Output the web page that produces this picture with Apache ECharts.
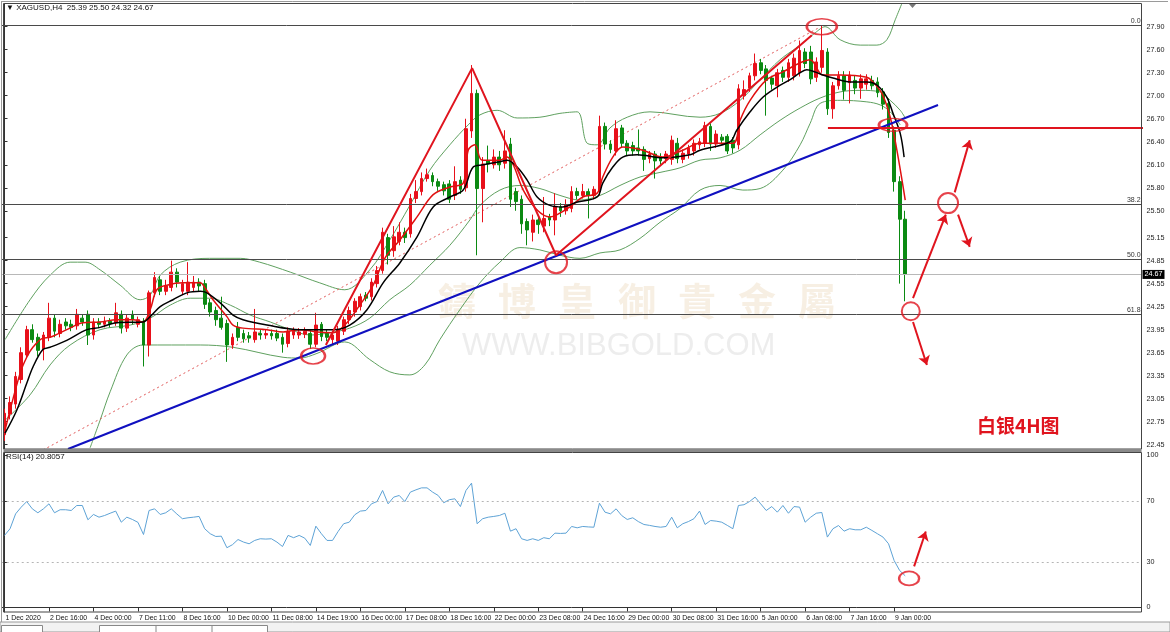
<!DOCTYPE html>
<html><head><meta charset="utf-8">
<script src="https://cdn.jsdelivr.net/npm/echarts@6/dist/echarts.min.js"></script>
<style>html,body{margin:0;padding:0;background:#fff}#chart{width:1170px;height:632px}</style>
</head><body><div id="chart"></div>
<script>
// ---------------- DATA ----------------
const xTickLabels = ['1 Dec 2020','2 Dec 16:00','4 Dec 00:00','7 Dec 11:00','8 Dec 16:00','10 Dec 00:00','11 Dec 08:00','14 Dec 19:00','16 Dec 00:00','17 Dec 08:00','18 Dec 16:00','22 Dec 00:00','23 Dec 08:00','24 Dec 16:00','29 Dec 00:00','30 Dec 08:00','31 Dec 16:00','5 Jan 00:00','6 Jan 08:00','7 Jan 16:00','9 Jan 00:00'];
const priceTicks = [27.90,27.60,27.30,27.00,26.70,26.40,26.10,25.80,25.50,25.15,24.85,24.55,24.25,23.95,23.65,23.35,23.05,22.75,22.45];
const rsiTicks = [0,30,70,100];
const rsiLevels = [70,30];
const lastPrice = 24.67;
const headerText = 'XAGUSD,H4  25.39 25.50 24.32 24.67';
const rsiText = 'RSI(14) 20.8057';
const chartNote = '白银4H图';

const opens = [
22.58,22.85,22.98,23.30,23.62,23.95,23.85,23.70,23.85,24.10,
23.90,24.05,24.02,24.00,24.10,24.15,23.88,24.05,24.02,24.06,
24.04,24.15,23.97,24.15,24.02,24.06,23.75,24.43,24.60,24.45,
24.50,24.70,24.45,24.45,24.50,24.57,24.55,24.30,24.20,24.10,
24.03,23.75,23.98,23.90,23.87,23.82,23.90,23.88,23.90,23.90,
23.85,23.77,23.88,23.88,23.89,23.90,23.76,24.02,23.90,23.82,
23.80,23.93,24.08,24.18,24.25,24.40,24.38,24.55,24.72,25.15,
24.98,25.10,25.22,25.20,25.66,25.75,25.92,25.96,25.88,25.84,
25.85,25.70,25.90,25.80,26.54,27.03,25.79,26.15,26.10,26.20,
26.12,26.37,25.75,25.65,25.36,25.22,25.38,25.30,25.42,25.38,
25.55,25.50,25.53,25.75,25.70,25.75,25.70,25.75,26.60,26.37,
26.28,26.58,26.38,26.35,26.32,26.30,26.18,26.24,26.20,26.18,
26.17,26.38,26.17,26.24,26.28,26.36,26.38,26.60,26.37,26.46,
26.47,26.42,26.36,27.00,27.10,27.26,27.43,27.35,27.23,27.13,
27.33,27.24,27.26,27.30,27.57,27.57,27.24,27.37,27.57,26.83,
27.13,27.26,27.17,27.20,27.10,27.15,27.20,27.18,27.05,26.90,
26.55,25.88,25.39];
const closes = [
22.86,23.00,23.34,23.65,23.95,23.82,23.68,23.88,24.10,23.93,
24.02,24.00,23.98,24.15,24.05,23.88,24.05,24.02,24.06,24.03,
24.17,23.97,24.10,24.08,24.08,23.75,24.43,24.63,24.45,24.52,
24.70,24.57,24.55,24.57,24.57,24.52,24.28,24.18,24.08,23.98,
23.75,23.85,23.85,23.83,23.84,23.92,23.88,23.90,23.87,23.84,
23.76,23.93,23.93,23.92,23.93,23.76,24.01,23.86,23.85,23.88,
23.95,24.08,24.20,24.32,24.38,24.36,24.57,24.72,25.22,24.92,
25.16,25.22,25.15,25.66,25.75,25.92,25.97,25.88,25.82,25.76,
25.65,25.88,25.78,26.57,27.03,25.79,26.11,26.11,26.20,26.10,
26.28,25.65,25.62,25.33,25.25,25.38,25.32,25.40,25.38,25.55,
25.50,25.58,25.75,25.70,25.75,25.70,25.78,26.60,26.37,26.30,
26.57,26.38,26.28,26.28,26.28,26.17,26.24,26.15,26.15,26.24,
26.42,26.18,26.25,26.32,26.38,26.40,26.61,26.37,26.50,26.42,
26.28,26.32,27.09,27.08,27.26,27.42,27.33,27.20,27.15,27.30,
27.24,27.43,27.49,27.59,27.42,27.22,27.44,27.59,26.83,27.13,
27.26,27.07,27.27,27.10,27.22,27.22,27.13,27.04,26.89,26.52,
25.88,25.39,24.67];
const lows = [
22.50,22.78,22.92,23.25,23.58,23.78,23.60,23.55,23.80,23.85,
23.85,23.95,23.93,23.95,24.00,23.75,23.82,23.97,23.98,23.98,
24.00,23.90,23.92,24.02,23.98,23.47,23.60,24.38,24.40,24.40,
24.45,24.50,24.40,24.40,24.45,24.45,24.22,24.12,24.00,23.95,
23.53,23.70,23.80,23.78,23.78,23.78,23.82,23.83,23.82,23.80,
23.65,23.72,23.83,23.83,23.84,23.70,23.72,23.80,23.80,23.76,
23.75,23.88,24.02,24.12,24.20,24.32,24.33,24.50,24.68,24.80,
24.90,25.05,25.08,25.15,25.60,25.70,25.88,25.82,25.76,25.70,
25.60,25.64,25.72,25.75,26.45,24.92,25.35,26.00,26.05,26.02,
26.05,25.55,25.50,25.20,25.05,25.10,25.20,25.22,25.30,25.18,
25.42,25.45,25.48,25.65,25.66,25.40,25.65,25.70,26.30,26.25,
26.22,26.32,26.22,26.22,26.22,26.02,26.12,25.92,26.10,26.12,
26.10,26.12,26.12,26.18,26.22,26.30,26.33,26.28,26.32,26.38,
26.24,26.25,26.30,26.95,27.05,27.20,27.28,26.74,27.08,26.98,
27.18,27.18,27.20,27.25,27.36,27.15,27.18,27.30,26.75,26.70,
27.08,26.95,26.90,27.02,26.96,27.08,27.08,26.98,26.82,26.45,
25.75,24.55,24.32];
const highs = [
22.92,23.08,23.40,23.72,24.00,24.02,23.90,23.92,24.30,24.15,
24.08,24.10,24.08,24.22,24.15,24.20,24.10,24.10,24.12,24.10,
24.30,24.20,24.15,24.20,24.12,24.10,24.46,24.70,24.65,24.60,
24.85,24.75,24.60,24.83,24.65,24.62,24.60,24.35,24.25,24.38,
24.08,23.90,24.05,23.95,23.92,24.22,23.95,23.95,23.95,23.95,
23.90,23.98,23.98,23.97,23.98,23.95,24.17,24.05,23.95,23.93,
24.00,24.12,24.25,24.36,24.42,24.44,24.62,24.78,25.28,25.20,
25.30,25.35,25.28,25.72,25.90,26.00,26.05,26.00,25.92,25.88,
25.90,26.08,25.95,26.70,27.40,27.08,26.20,26.35,26.30,26.28,
26.55,26.45,25.80,25.70,25.40,25.45,25.42,25.68,25.46,25.73,
25.60,25.65,25.82,25.80,25.85,25.79,25.82,26.74,26.65,26.42,
26.68,26.62,26.42,26.40,26.56,26.34,26.28,26.28,26.25,26.28,
26.48,26.45,26.30,26.36,26.43,26.45,26.66,26.64,26.55,26.50,
26.50,26.46,27.15,27.20,27.30,27.55,27.48,27.40,27.26,27.35,
27.38,27.48,27.55,27.72,27.62,27.65,27.50,27.92,27.62,27.18,
27.32,27.32,27.32,27.26,27.28,27.28,27.26,27.24,27.10,26.96,
26.60,25.95,25.50];
const rsi = [
47.4,51.8,61.6,66.0,69.7,64.9,62.3,64.9,68.2,62.3,
64.3,64.3,63.8,67.1,67.1,57.7,61.2,59.4,60.5,62.0,
63.4,56.1,59.4,57.9,56.0,48.0,63.8,64.9,61.2,62.3,
64.9,61.5,58.4,59.0,59.4,59.9,51.8,48.5,46.7,46.9,
39.3,41.3,44.7,43.0,41.9,44.1,45.2,45.0,45.2,43.0,
40.1,47.4,45.9,47.4,45.6,40.8,53.5,48.5,44.1,44.1,
50.0,55.1,56.1,61.0,63.4,63.8,68.2,69.7,77.0,68.2,
72.6,73.7,69.7,75.9,77.4,78.7,78.7,75.9,73.7,68.9,
70.9,71.5,66.4,77.0,81.8,55.1,58.4,59.4,59.9,60.5,
62.0,50.2,51.8,45.2,44.1,45.2,44.1,45.9,45.2,48.9,
48.7,48.9,53.3,52.4,53.3,53.0,52.8,68.6,62.7,61.6,
64.9,60.5,57.9,59.0,56.5,54.6,54.0,53.3,52.8,53.3,
59.4,52.4,55.1,56.5,58.4,63.4,54.6,57.2,56.8,56.1,
54.0,51.8,67.1,67.6,69.7,72.6,68.2,63.8,66.4,62.7,
67.1,62.0,66.4,66.0,56.1,59.4,62.0,62.5,46.3,51.8,
53.9,50.2,51.8,51.1,51.1,52.8,50.7,48.5,46.3,41.9,
30.9,24.3,20.8];

// indicator readings [bar, price]
const maFast = [[0.1,22.64],[2.8,23.38],[4.0,23.59],[5.1,23.72],[6.9,23.84],[8.2,23.85],[11.2,23.95],[14.1,24.04],[17.2,24.05],[20.2,24.08],[23.1,24.08],[24.9,24.05],[26.2,24.21],[27.4,24.47],[29.2,24.53],[32.1,24.56],[35.2,24.56],[36.1,24.49],[37.5,24.34],[40.0,24.12],[41.1,24.01],[42.9,23.97],[47.2,23.95],[50.1,23.92],[53.1,23.95],[56.2,23.92],[59.1,23.91],[61.2,24.01],[63.9,24.27],[66.3,24.53],[68.4,24.88],[71.1,25.12],[74.2,25.42],[77.1,25.71],[80.1,25.81],[82.5,25.86],[83.4,26.29],[84.6,26.36],[85.9,26.16],[89.1,26.16],[90.4,26.20],[91.5,26.10],[93.3,25.77],[95.8,25.51],[98.1,25.42],[99.4,25.45],[101.7,25.55],[104.0,25.68],[106.6,25.73],[107.6,25.94],[109.4,26.20],[111.2,26.33],[114.8,26.29],[118.4,26.20],[122.0,26.29],[125.1,26.38],[131.0,26.38],[132.3,26.68],[134.1,26.94],[137.1,27.21],[140.0,27.31],[143.1,27.43],[144.9,27.47],[147.2,27.27],[150.3,27.27],[155.1,27.24],[156.2,27.18],[157.8,27.03],[159.3,26.72],[160.5,26.29],[162.0,25.64]];
const maSlow = [[0.1,22.60],[2.2,22.90],[4.0,23.25],[5.1,23.46],[6.9,23.69],[8.2,23.72],[11.2,23.81],[14.8,23.95],[17.2,23.98],[20.2,24.04],[24.9,24.05],[26.2,24.12],[28.0,24.25],[30.3,24.34],[32.8,24.43],[35.2,24.45],[36.4,24.43],[38.8,24.30],[41.1,24.14],[42.9,24.08],[47.2,24.01],[53.1,23.95],[59.1,23.95],[62.1,24.01],[65.2,24.21],[68.1,24.56],[71.1,24.82],[74.2,25.16],[77.1,25.55],[80.1,25.68],[82.5,25.77],[84.3,26.07],[86.1,26.10],[89.1,26.14],[90.4,26.16],[92.2,26.07],[94.0,25.90],[95.8,25.68],[98.1,25.57],[100.4,25.55],[102.9,25.61],[106.6,25.68],[107.6,25.86],[109.4,26.07],[111.2,26.20],[113.8,26.23],[118.4,26.19],[123.3,26.23],[125.1,26.29],[130.5,26.40],[131.7,26.55],[134.1,26.79],[136.4,26.98],[138.9,27.11],[141.3,27.21],[143.1,27.30],[144.3,27.34],[145.8,27.31],[147.2,27.27],[149.0,27.23],[152.1,27.18],[155.1,27.18],[156.9,27.14],[158.7,26.98],[159.8,26.77],[161.1,26.51],[161.8,26.20]];
const bbUpper = [[0.1,23.82],[4.6,24.34],[8.2,24.66],[11.8,24.83],[14.5,24.83],[17.2,24.73],[20.8,24.53],[24.4,24.34],[26.2,24.40],[28.0,24.66],[31.6,24.83],[36.9,24.88],[42.4,24.88],[45.9,24.83],[51.4,24.70],[56.7,24.56],[61.2,24.47],[65.7,24.73],[69.3,25.12],[72.9,25.57],[76.5,26.03],[80.1,26.36],[83.4,26.62],[85.5,26.75],[88.6,26.81],[92.2,26.71],[96.3,26.72],[99.9,26.77],[103.0,26.79],[104.8,26.38],[106.6,26.36],[108.9,26.58],[112.0,26.72],[116.1,26.79],[125.1,26.72],[128.7,26.77],[132.3,26.94],[135.9,27.21],[139.5,27.47],[143.1,27.66],[145.8,27.82],[147.6,27.90],[150.3,27.73],[153.9,27.66],[156.9,27.66],[158.7,27.73],[160.2,27.99],[162.0,28.31]];
const bbMiddle = [[0.1,22.77],[4.6,23.10],[8.2,23.49],[11.8,23.75],[17.2,23.95],[22.6,24.01],[26.2,24.10],[29.8,24.27],[33.4,24.36],[36.9,24.36],[40.6,24.27],[44.2,24.14],[47.8,24.05],[51.4,23.95],[55.0,23.88],[58.5,23.91],[62.1,23.97],[65.7,24.10],[69.3,24.34],[72.9,24.53],[76.5,24.79],[80.1,25.05],[83.7,25.38],[85.5,25.57],[89.1,25.77],[92.7,25.83],[96.3,25.79],[99.9,25.70],[103.5,25.64],[107.1,25.70],[110.7,25.83],[114.3,25.94],[117.9,26.00],[121.5,26.06],[125.1,26.16],[128.7,26.19],[132.3,26.29],[135.9,26.49],[139.5,26.68],[143.1,26.84],[146.7,26.97],[150.3,27.05],[153.9,27.07],[157.5,27.05],[159.3,26.94],[161.1,26.81],[162.0,26.71]];
const bbLower = [[15.4,22.41],[17.2,22.77],[19.0,23.14],[22.0,23.62],[24.9,23.75],[35.2,23.75],[41.1,23.72],[50.1,23.59],[53.1,23.58],[56.2,23.64],[61.2,23.79],[65.7,23.56],[69.3,23.40],[72.9,23.36],[75.6,23.49],[78.3,23.82],[81.9,24.21],[85.5,24.56],[89.1,24.83],[92.7,25.02],[96.3,24.99],[99.9,24.92],[103.5,24.88],[107.1,24.95],[110.7,24.99],[114.3,25.14],[117.9,25.35],[121.5,25.53],[125.1,25.77],[128.7,25.83],[132.8,25.77],[135.9,25.79],[140.0,26.03],[143.1,26.36],[144.9,26.64],[146.7,26.90],[150.3,26.94],[155.1,26.92],[157.5,26.88],[159.3,26.79],[161.1,26.62]];

// drawn objects [bar, price]
const fibLevels = [['0.0',27.92],['38.2',25.58],['50.0',24.87],['61.8',24.15]];
const trendBlue = [[11.42,22.394],[167.9,26.879]];
const channelDotted = [[6.92,22.38],[146.7,27.896]];
const zigzag = [[57.8,23.75],[84.1,27.36],[99.2,24.92],[145.2,27.79]];
const resistance = [[148.1,26.58],[206.0,26.58]];
const ellipseMain = [[55.5,23.607],[99.2,24.83],[147.0,27.90],[159.8,26.62],[169.7,25.60],[163.0,24.19]];
const ellipseRsi = [[162.7,19.1]];
const arrowsMain = [[[163.4,24.36],[169.3,25.45]],[[170.9,25.74],[173.6,26.42]],[[171.5,25.45],[173.6,25.03]],[[163.4,24.05],[165.9,23.49]]];
const arrowsRsi = [[[163.6,27.0],[165.7,50.0]]];

// ---------------- LAYOUT / STYLE ----------------
const NCAT = 205;
const BARW = 5.56;
const GL = 1.72;
const GW = NCAT * BARW;
const LAST_LABEL_IDX = (xTickLabels.length - 1) * 8;
const ellipseSizes = [[24,16],[22,22],[30,16],[28,13],[20,20],[18,18]];
const FONT = "'Liberation Sans',Arial,sans-serif";
const UP = '#e8101a', DOWN = '#0b8a12', RED = '#e0141e';
const cats = Array.from({length: NCAT}, (_, i) => String(i));
const ohlc = opens.map((o, i) => [o, closes[i], lows[i], highs[i]]);
const showTick = (i) => i % 8 === 0 && i <= LAST_LABEL_IDX;

const chart = echarts.init(document.getElementById('chart'), null, {renderer: 'canvas'});
const lineS = (name, data, color, width, extra) => Object.assign({
  name, type: 'line', xAxisIndex: 2, yAxisIndex: 0, data, symbol: 'none', smooth: 0.35,
  lineStyle: {color, width}, silent: true, clip: true, z: 3
}, extra || {});

const option = {
  animation: false,
  backgroundColor: '#fff',
  grid: [
    {left: GL, top: 4, width: GW, height: 445},
    {left: GL, top: 452, width: GW, height: 160}
  ],
  xAxis: [
    {type: 'category', gridIndex: 0, data: cats, boundaryGap: true, axisLine: {show: false}, axisTick: {show: false}, axisLabel: {show: false}, splitLine: {show: false}},
    {type: 'category', gridIndex: 1, data: cats, boundaryGap: true, position: 'bottom',
     axisLine: {show: true, lineStyle: {color: '#333'}},
     axisTick: {show: true, interval: showTick, alignWithLabel: true, length: 4, lineStyle: {color: '#333'}},
     axisLabel: {interval: showTick, align: 'left', margin: 3, fontSize: 6.9, color: '#111', fontFamily: FONT, padding: [0,0,0,1],
       formatter: (v, i) => showTick(i) ? xTickLabels[i / 8] : ''},
     splitLine: {show: false}},
    {type: 'value', gridIndex: 0, min: -0.5, max: NCAT - 0.5, show: false},
    {type: 'value', gridIndex: 1, min: -0.5, max: NCAT - 0.5, show: false}
  ],
  yAxis: [
    {type: 'value', gridIndex: 0, position: 'right', min: 22.394, max: 28.196, scale: true,
     splitLine: {show: false}, axisLine: {show: true, lineStyle: {color: '#333'}},
     axisTick: {show: true, customValues: priceTicks, length: 3, lineStyle: {color: '#333'}},
     axisLabel: {customValues: priceTicks, formatter: v => v.toFixed(2), fontSize: 7.2, color: '#222', margin: 5, fontFamily: FONT}},
    {type: 'value', gridIndex: 1, position: 'right', min: -3.0, max: 102.3,
     splitLine: {show: false}, axisLine: {show: true, lineStyle: {color: '#333'}},
     axisTick: {show: true, customValues: rsiTicks, length: 3, lineStyle: {color: '#333'}},
     axisLabel: {customValues: rsiTicks, formatter: v => String(v), fontSize: 7.2, color: '#222', margin: 5, fontFamily: FONT}}
  ],
  series: [
    {type: 'line', xAxisIndex: 2, yAxisIndex: 0, data: [], silent: true, z: 1,
     markLine: {silent: true, symbol: ['none','none'], animation: false,
       data: fibLevels.map(f => ({yAxis: f[1], name: f[0], lineStyle: {color: '#4a4a4a', width: 1, type: 'solid'},
         label: {show: true, position: 'insideEndTop', formatter: f[0], fontSize: 7, color: '#333', fontFamily: FONT, distance: [1, 1]}}))
         .concat([{yAxis: lastPrice, lineStyle: {color: '#b8b8b8', width: 1, type: 'solid'},
           label: {show: true, position: 'end', formatter: lastPrice.toFixed(2), backgroundColor: '#000', color: '#fff', fontSize: 7.2, padding: [1, 2, 1, 2], fontFamily: FONT, distance: 1}}])}},
    lineS('bbUpper', bbUpper, '#5fa05f', 1),
    lineS('bbMiddle', bbMiddle, '#5fa05f', 1),
    lineS('bbLower', bbLower, '#5fa05f', 1),
    {name: 'candles', type: 'candlestick', xAxisIndex: 0, yAxisIndex: 0, data: ohlc, barWidth: 3.2, z: 4,
     itemStyle: {color: UP, color0: DOWN, borderColor: UP, borderColor0: DOWN, borderWidth: 1}},
    lineS('maFast', maFast, '#e01010', 1.5, {z: 5}),
    lineS('maSlow', maSlow, '#000', 1.5, {z: 5}),
    lineS('channel', channelDotted, '#e06060', 1, {smooth: false, lineStyle: {color: '#e05a5a', width: 1, type: [2, 3]}, z: 3}),
    lineS('blueTrend', trendBlue, '#1010c0', 2, {smooth: false, z: 6}),
    lineS('zigzag', zigzag, RED, 2, {smooth: false, z: 6}),
    lineS('resistance', resistance, RED, 2, {smooth: false, z: 6, clip: false,
      markLine: {silent: true, symbol: ['none', 'arrow'], symbolSize: 9, animation: false,
        lineStyle: {color: RED, width: 2, type: 'solid'}, label: {show: false},
        data: arrowsMain.map(a => [{coord: a[0]}, {coord: a[1]}])}}),
    {name: 'ellipses', type: 'scatter', xAxisIndex: 2, yAxisIndex: 0, z: 7, silent: true,
     data: ellipseMain.map((p, i) => ({value: p, symbolSize: ellipseSizes[i]})),
     symbol: 'circle', itemStyle: {color: 'rgba(0,0,0,0)', borderColor: RED, borderWidth: 2}},
    {name: 'rsi', type: 'line', xAxisIndex: 1, yAxisIndex: 1, data: rsi, symbol: 'none', silent: true,
     lineStyle: {color: '#5ea3d6', width: 1}, z: 3,
     markLine: {silent: true, symbol: ['none','none'], animation: false, label: {show: false},
       lineStyle: {color: '#b5b5b5', width: 1, type: [2, 3]},
       data: rsiLevels.map(v => ({yAxis: v}))}},
    {name: 'rsiMarks', type: 'scatter', xAxisIndex: 3, yAxisIndex: 1, z: 7, silent: true,
     data: ellipseRsi.map(p => ({value: p, symbolSize: [20, 14]})),
     symbol: 'circle', itemStyle: {color: 'rgba(0,0,0,0)', borderColor: RED, borderWidth: 2},
     markLine: {silent: true, symbol: ['none','arrow'], symbolSize: 9, animation: false,
       lineStyle: {color: RED, width: 2, type: 'solid'}, label: {show: false},
       data: arrowsRsi.map(a => [{coord: a[0]}, {coord: a[1]}])}}
  ],
  graphic: [
    {type: 'group', z: 0, silent: true, children:
      ['鑄','博','皇','御','貴','金','屬'].map((c, k) => ({type: 'text', left: 438 + k * 60, top: 282,
        style: {text: c, font: "bold 38px 'Noto Sans CJK TC','Noto Sans CJK SC',sans-serif", fill: 'rgba(226,196,150,0.27)'}}))
      .concat([{type: 'text', left: 462, top: 331, style: {text: 'WWW.BIBGOLD.COM', font: "31px 'Liberation Sans',Arial,sans-serif", fill: 'rgba(200,200,200,0.32)'}}])},
    {type: 'rect', z: 50, silent: true, shape: {x: 3.5, y: 3.5, width: 1138, height: 445.5}, style: {fill: 'none', stroke: '#444', lineWidth: 1}},
    {type: 'rect', z: 50, silent: true, shape: {x: 3.5, y: 449, width: 1138, height: 3}, style: {fill: '#8a8a8a'}},
    {type: 'rect', z: 50, silent: true, shape: {x: 3.5, y: 452.5, width: 1138, height: 159.5}, style: {fill: 'none', stroke: '#444', lineWidth: 1}},
    {type: 'line', z: 50, silent: true, shape: {x1: 1.5, y1: 2, x2: 1.5, y2: 622}, style: {stroke: '#9a9a9a', lineWidth: 1}},
    {type: 'line', z: 50, silent: true, shape: {x1: 1, y1: 1.5, x2: 1168, y2: 1.5}, style: {stroke: '#9a9a9a', lineWidth: 1}},
    {type: 'polygon', z: 50, silent: true, shape: {points: [[909, 4], [916, 4], [912.5, 8]]}, style: {fill: '#777'}},
    {type: 'rect', z: 50, silent: true, shape: {x: 0, y: 622, width: 1170, height: 10}, style: {fill: '#f2f2f2', stroke: '#9a9a9a', lineWidth: 1}},
    {type: 'rect', z: 51, silent: true, shape: {x: 1.5, y: 625.5, width: 41, height: 7}, style: {fill: '#fff', stroke: '#888', lineWidth: 1}},
    {type: 'rect', z: 51, silent: true, shape: {x: 99.5, y: 625.5, width: 168, height: 7}, style: {fill: '#fff', stroke: '#888', lineWidth: 1}},
    {type: 'line', z: 51, silent: true, shape: {x1: 156, y1: 626, x2: 156, y2: 632}, style: {stroke: '#888'}},
    {type: 'line', z: 51, silent: true, shape: {x1: 212, y1: 626, x2: 212, y2: 632}, style: {stroke: '#888'}},
    {type: 'text', z: 60, left: 6, top: 4, style: {text: '▼ ' + headerText, font: "8px " + FONT, fill: '#111'}},
    {type: 'text', z: 60, left: 6, top: 453, style: {text: rsiText, font: "8px " + FONT, fill: '#111'}},
    {type: 'text', z: 60, left: 977, top: 416, style: {text: chartNote, font: "bold 19px 'Noto Sans CJK SC',sans-serif", fill: RED}}
  ]
};
chart.setOption(option);
</script>
</body></html>
